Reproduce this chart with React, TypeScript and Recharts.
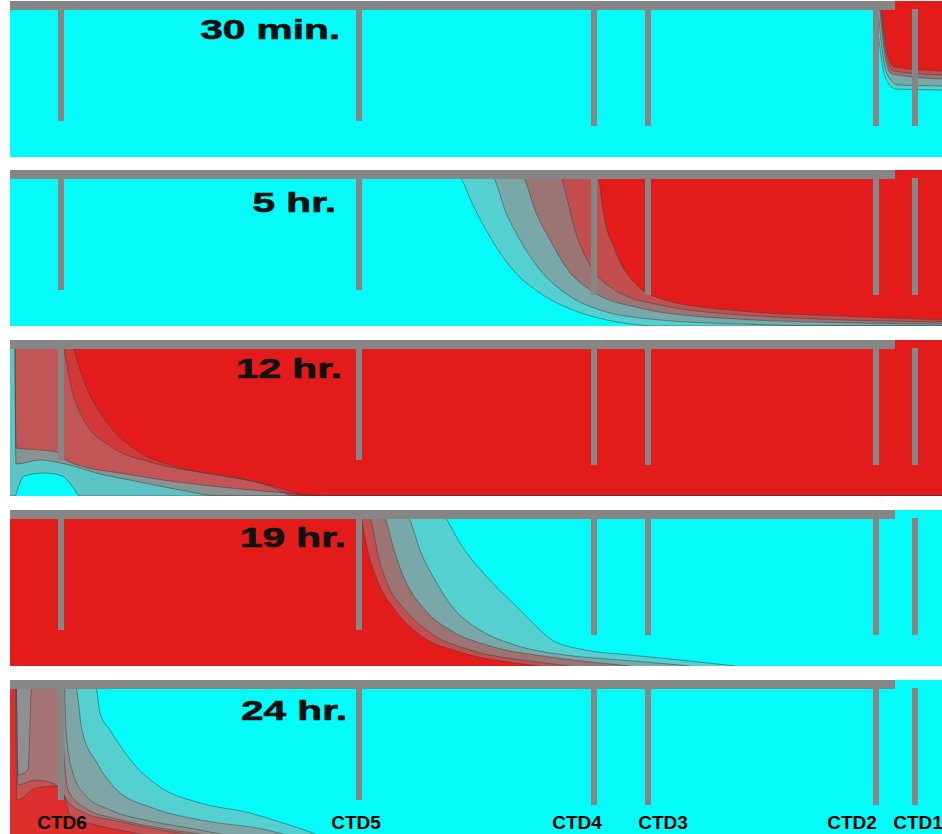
import React from "react";
import { ComposedChart, Area, Line, XAxis, YAxis, ReferenceArea, ReferenceLine } from "recharts";

// distance along the flume (px-scale units) and depth below the surface (0 = top, 156 = bed)
const STATIONS = ["CTD6", "CTD5", "CTD4", "CTD3", "CTD2", "CTD1"];
const STATION_X = [61, 359, 594, 648, 876, 915];
const STATION_DEPTH = [120, 120, 125, 125, 125, 125];
const TIMES = ["30 min.", "5 hr.", "12 hr.", "19 hr.", "24 hr."];

// contour bands, outer (fresh side) to inner (salt side): [x, interface depth]
const BANDS_30MIN: [number, number][][] = [
  [[874, 0], [878, 30], [882, 62], [888, 82], [896, 88], [942, 89]],
  [[877, 0], [880, 30], [884, 62], [890, 78], [898, 84], [942, 85]],
  [[879, 0], [882, 30], [886, 60], [892, 73], [942, 78]],
  [[880, 0], [883, 30], [887, 58], [893, 70], [942, 74]],
  [[881, 0], [884, 30], [888, 55], [894, 66], [942, 70]],
];

const BANDS_5HR: [number, number][][] = [
  [[456, 0], [462, 10], [472, 33], [490, 67], [513, 100], [540, 123], [573, 140], [607, 150], [640, 155], [660, 156], [942, 156]],
  [[490, 0], [495, 10], [505, 40], [520, 70], [540, 100], [565, 123], [600, 140], [660, 150], [740, 154], [800, 155.5], [942, 155.5]],
  [[520, 0], [525, 10], [535, 40], [550, 70], [568, 100], [595, 123], [640, 138], [720, 148], [860, 153], [942, 154]],
  [[560, 0], [565, 20], [575, 60], [590, 95], [615, 120], [660, 135], [760, 146], [942, 152]],
  [[598, 0], [603, 40], [615, 80], [632, 110], [665, 130], [740, 141], [840, 146], [942, 150]],
];

const BANDS_12HR: [number, number][][] = [
  [[10, 156], [15, 156], [18, 148], [24, 136], [45, 133], [62, 136], [72, 146], [80, 156], [942, 156]],
  [[15, 0], [16, 124], [40, 120], [65, 124], [100, 134], [140, 142], [180, 150], [220, 156], [942, 156]],
  [[15, 0], [16, 108], [40, 110], [56, 112], [66, 120], [85, 127], [120, 133], [170, 141], [230, 148], [300, 154], [330, 156], [942, 156]],
  [[62, 0], [66, 20], [72, 50], [84, 80], [110, 106], [150, 122], [210, 134], [270, 146], [295, 156], [942, 156]],
  [[68, 0], [74, 10], [80, 30], [90, 55], [105, 80], [133, 108], [173, 126], [233, 137], [287, 150], [305, 156], [942, 156]],
];

const BANDS_19HR: [number, number][][] = [
  [[10, 0], [440, 0], [447, 10], [460, 33], [487, 67], [520, 100], [537, 117], [552, 130], [585, 140], [630, 145], [680, 150], [717, 154], [735, 156]],
  [[10, 0], [405, 0], [410, 10], [420, 40], [435, 70], [455, 100], [480, 120], [515, 135], [565, 145], [620, 150], [680, 155], [690, 156]],
  [[10, 0], [382, 0], [386, 10], [394, 40], [405, 70], [425, 100], [450, 120], [490, 136], [550, 147], [610, 154], [630, 156]],
  [[10, 0], [368, 0], [372, 15], [378, 45], [388, 75], [405, 100], [432, 124], [470, 140], [530, 151], [570, 156]],
  [[10, 0], [360, 0], [362, 10], [366, 33], [376, 67], [395, 100], [420, 125], [460, 142], [515, 153], [540, 156]],
];

const BANDS_24HR: [number, number][][] = [
  [[10, 0], [95, 0], [97, 12], [100, 33], [110, 50], [133, 83], [160, 107], [200, 123], [250, 133], [283, 143], [310, 152], [320, 156]],
  [[10, 0], [75, 0], [77, 12], [82, 50], [97, 83], [117, 110], [150, 127], [200, 140], [267, 150], [290, 156]],
  [[10, 0], [64, 0], [66, 50], [72, 90], [85, 115], [110, 130], [150, 141], [200, 150], [230, 156]],
  [[10, 0], [16, 0], [18, 95], [28, 90], [32, 0], [60, 0], [63, 60], [68, 110], [85, 128], [117, 139], [160, 148], [200, 154], [215, 156]],
  [[10, 0], [16, 0], [18, 105], [35, 100], [55, 104], [68, 122], [85, 133], [117, 141], [150, 148], [180, 153], [200, 156]],
  [[10, 0], [15, 0], [17, 120], [36, 108], [55, 106], [64, 115], [70, 135], [100, 146], [130, 152], [150, 156]],
];

const PANEL_BANDS = [BANDS_30MIN, BANDS_5HR, BANDS_12HR, BANDS_19HR, BANDS_24HR];
// salt water above the interface (true) or below it (false)
const SALT_ON_TOP = [true, true, true, false, false];

// layout / styling
const CYAN = "#05fafa";
const GREY = "#868686";
const DEFAULT_COLORS = ["#55d0d0", "#78a8a8", "#9c7474", "#c44e4e", "#e41b1b"];
const PANEL_COLORS = [
  DEFAULT_COLORS,
  DEFAULT_COLORS,
  ["#5cc4c4", "#8b9292", "#c25555", "#d23838", "#e41b1b"],
  DEFAULT_COLORS,
  ["#55d0d0", "#7ea6a6", "#909090", "#a57575", "#c55252", "#de2e2e"],
];
const PANEL_TOP = [1, 170, 340, 510, 680];
const PANEL_W = 942;
const PANEL_H = 156;
const BED = 156;
const BAR_X = [10, 895];
const BAR_DEPTH = 9;
const TITLE_RIGHT = [340, 336, 342, 346, 347];
const TITLE_BASE = [38, 42, 38, 37, 40];
const LABEL_DX = [1, -3, -17, 15, -24, 3];
const LABEL_BASE = 149;
const FONT = "'Liberation Sans', Arial, Helvetica, sans-serif";

function CtdTick(props: any) {
  const idx = STATION_X.indexOf(props.payload?.value);
  if (idx < 0) return null;
  return (
    <text
      x={props.x + LABEL_DX[idx]}
      y={LABEL_BASE}
      textAnchor="middle"
      fontSize={19}
      fontWeight="bold"
      fontFamily={FONT}
      fill="#000"
    >
      {STATIONS[idx]}
    </text>
  );
}

function Panel({ index }: { index: number }) {
  const bands = PANEL_BANDS[index];
  const colors = PANEL_COLORS[index];
  const onTop = SALT_ON_TOP[index];
  const isLast = index === TIMES.length - 1;
  const offset = colors.length - bands.length;

  return (
    <div style={{ position: "absolute", left: 0, top: PANEL_TOP[index], width: PANEL_W, height: PANEL_H }}>
      <div style={{ position: "absolute", left: 10, top: 0, width: PANEL_W - 10, height: PANEL_H, background: CYAN }} />
      <div style={{ position: "absolute", left: 0, top: 0 }}>
        <ComposedChart width={PANEL_W} height={PANEL_H} margin={{ top: 0, right: 0, bottom: 0, left: 0 }}>
          <XAxis
            type="number"
            dataKey="x"
            domain={[0, PANEL_W]}
            allowDataOverflow
            hide={!isLast}
            mirror
            ticks={STATION_X}
            interval={0}
            axisLine={false}
            tickLine={false}
            tick={<CtdTick />}
          />
          <YAxis type="number" domain={[0, BED]} reversed hide allowDataOverflow />
          {bands.map((band, b) => {
            const rows = band.map(([x, d]) => ({ x, d, range: onTop ? [0, d] : [d, BED] }));
            return (
              <Area
                key={`a${b}`}
                data={rows}
                dataKey="range"
                type="monotone"
                fill={colors[b + offset]}
                fillOpacity={1}
                stroke="none"
                isAnimationActive={false}
              />
            );
          })}
          {bands.map((band, b) => {
            const rows = band.map(([x, d]) => ({ x, d }));
            return (
              <Line
                key={`l${b}`}
                data={rows}
                dataKey="d"
                type="monotone"
                stroke="#2c4646"
                strokeWidth={0.8}
                strokeOpacity={0.65}
                dot={false}
                activeDot={false}
                isAnimationActive={false}
              />
            );
          })}
          <ReferenceArea
            x1={BAR_X[0]}
            x2={BAR_X[1]}
            y1={0}
            y2={BAR_DEPTH}
            fill={GREY}
            fillOpacity={1}
            stroke="none"
            zIndex={1500}
          />
          {STATION_X.map((sx, s) => (
            <ReferenceLine
              key={STATIONS[s]}
              segment={[
                { x: sx, y: BAR_DEPTH - 1 },
                { x: sx, y: STATION_DEPTH[s] },
              ]}
              stroke={GREY}
              strokeWidth={6}
              zIndex={1500}
            />
          ))}
        </ComposedChart>
      </div>
      <svg
        width={PANEL_W}
        height={PANEL_H}
        style={{ position: "absolute", left: 0, top: 0, pointerEvents: "none" }}
      >
        <text
          transform={`translate(${TITLE_RIGHT[index]},${TITLE_BASE[index]}) scale(1.45,1)`}
          textAnchor="end"
          fontSize={28}
          fontWeight="bold"
          fontFamily={FONT}
          fill="#111"
          stroke="#111"
          strokeWidth={0.7}
        >
          {TIMES[index]}
        </text>
      </svg>
    </div>
  );
}

export default function App() {
  return (
    <div
      style={{
        position: "fixed",
        left: 0,
        top: 0,
        width: 942,
        height: 834,
        overflow: "hidden",
        background: "#fff",
      }}
    >
      {TIMES.map((_t, i) => (
        <Panel key={i} index={i} />
      ))}
    </div>
  );
}
